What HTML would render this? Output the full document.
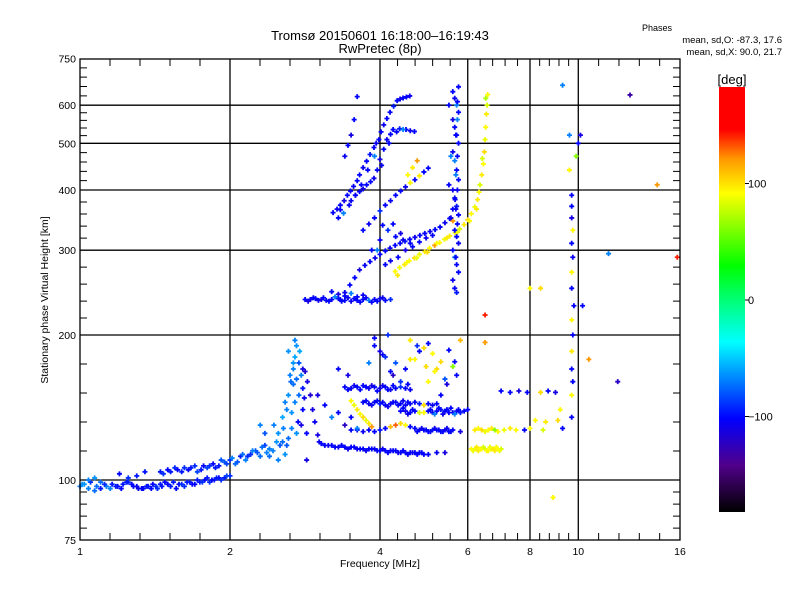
<!DOCTYPE html>
<html><head><meta charset="utf-8">
<style>
html,body{margin:0;padding:0;background:#fff;}
svg{display:block;font-family:"Liberation Sans",sans-serif;}
</style></head>
<body>
<svg id="chart" width="800" height="600" viewBox="0 0 800 600" xmlns="http://www.w3.org/2000/svg">
<defs>
<linearGradient id="cbar" x1="0" y1="1" x2="0" y2="0">
<stop offset="0" stop-color="#000000"/>
<stop offset="0.11" stop-color="#50008a"/>
<stop offset="0.22" stop-color="#0000ff"/>
<stop offset="0.31" stop-color="#0080ff"/>
<stop offset="0.40" stop-color="#00ffff"/>
<stop offset="0.48" stop-color="#00ff90"/>
<stop offset="0.58" stop-color="#00ff00"/>
<stop offset="0.75" stop-color="#ffff00"/>
<stop offset="0.83" stop-color="#ff9900"/>
<stop offset="0.90" stop-color="#ff0000"/>
<stop offset="1" stop-color="#ff0000"/>
</linearGradient>
</defs>
<text x="380" y="40" text-anchor="middle" font-size="13">Tromsø 20150601 16:18:00–16:19:43</text>
<text x="380" y="53" text-anchor="middle" font-size="13">RwPretec (8p)</text>
<text x="657" y="31" text-anchor="middle" font-size="9">Phases</text>
<text x="782" y="43" text-anchor="end" font-size="9.5">mean, sd,O: -87.3, 17.6</text>
<text x="782" y="55" text-anchor="end" font-size="9.5">mean, sd,X:  90.0, 21.7</text>
<g id="grid"></g>
<g id="marks"></g>
<g id="axes"></g>
<text x="380" y="567" text-anchor="middle" font-size="10.5">Frequency [MHz]</text>
<text transform="translate(48,300) rotate(-90)" text-anchor="middle" font-size="10.5">Stationary phase Virtual Height [km]</text>
<rect x="719" y="87" width="26" height="425" fill="url(#cbar)"/>
<text x="732" y="84" text-anchor="middle" font-size="13">[deg]</text>
<g id="cbticks"></g>
</svg>
<script>
const xMajor=[1,2,4,6,8,10,16];
const yMajor=[75,100,200,300,400,500,600,750];
const cbTicks=[100,0,-100];
// traces: frequency (MHz), height (km), phase (deg)
const eLowF=[1.0,1.02,1.05,1.08,1.1,1.13,1.16,1.19,1.22,1.25,1.28,1.31,1.34,1.37,1.4,1.43,1.46,1.5,1.54,1.58,1.62,1.66,1.7,1.74,1.78,1.82,1.86,1.9,1.95,2.0,1.01,1.04,1.07,1.12,1.15,1.18,1.21,1.24,1.27,1.3,1.33,1.36,1.39,1.42,1.45,1.48,1.52,1.56,1.6,1.64,1.68,1.72,1.76,1.8,1.84,1.88,1.92,1.97];
const eLowH=[97,98,99,97,96,97,98,97,98,99,97,96,96,97,98,96,97,98,99,98,97,99,98,99,100,99,100,101,101,102,98,96,95,98,96,97,96,99,98,97,96,97,96,97,98,99,97,96,98,99,98,100,99,101,100,101,100,102];
const eLowP=[-70,-65,-90,-75,-95,-70,-95,-100,-95,-90,-100,-105,-100,-95,-100,-90,-95,-100,-95,-100,-90,-95,-100,-95,-100,-90,-95,-100,-95,-90,-65,-70,-75,-90,-70,-95,-100,-95,-100,-105,-100,-95,-100,-90,-95,-100,-95,-100,-90,-95,-100,-95,-90,-95,-100,-95,-90,-85];
const eUpF=[1.04,1.07,1.1,1.45,1.5,1.55,1.6,1.65,1.7,1.75,1.8,1.85,1.9,1.95,2.0,2.05,2.1,2.15,2.2,2.25,2.3,2.35,2.4,1.2,1.3,1.47,1.52,1.57,1.62,1.67,1.72,1.77,1.82,1.87,1.92,1.97,2.02,2.07,2.12,2.17,2.22,2.27,2.32,2.37,1.25,1.35];
const eUpH=[100,101,99,104,105,106,104,105,107,105,106,108,107,109,110,108,112,110,113,115,112,118,116,103,102,103,104,105,106,106,104,107,107,106,110,108,111,109,113,112,115,114,117,114,101,104];
const eUpP=[-70,-65,-75,-95,-100,-90,-95,-100,-90,-95,-85,-100,-95,-80,-90,-75,-95,-70,-90,-80,-75,-85,-70,-100,-95,-90,-95,-100,-90,-95,-85,-100,-90,-95,-80,-85,-70,-80,-75,-90,-70,-80,-75,-70,-90,-95];
const preF=[2.45,2.5,2.55,2.55,2.6,2.62,2.65,2.68,2.7,2.72,2.75,2.78,2.75,2.7,2.8,2.8,2.66,2.72,2.6,2.5,2.4,2.58,2.85,2.85,2.3,2.35,2.62,2.7,2.76,2.68,2.64,2.68,2.72,2.58,2.66,2.74,2.56,2.62,2.52,2.44,2.48,2.8,2.82,2.78];
const preH=[130,125,120,135,140,150,160,170,180,190,175,165,150,145,140,155,128,125,118,110,112,113,125,110,130,125,185,195,185,158,165,175,162,145,138,132,128,122,118,115,120,170,148,130];
const preP=[-70,-65,-75,-60,-70,-65,-75,-70,-60,-65,-80,-70,-75,-70,-100,-95,-70,-65,-80,-70,-75,-65,-100,-110,-70,-80,-65,-70,-60,-75,-70,-65,-75,-70,-65,-100,-70,-75,-80,-70,-65,-110,-105,-110];
const f1F=[2.83,2.86,2.9,2.93,2.96,3.0,3.02,3.1,3.2,3.3,3.4,3.5,3.6,3.7,3.8,3.9,4.0,4.1,4.2,4.3,4.4,4.5,4.6,4.7,4.8,4.9,5.0,5.2,5.4,3.05,3.15,3.25,3.35,3.45,3.55,3.65,3.75,3.85,3.95,4.05,4.15,4.25,4.35,4.45,4.55,4.65,4.75,4.85];
const f1H=[168,160,150,140,132,124,120,118,118,117,117,117,116,116,116,116,115,115,115,115,114,114,114,114,114,113,113,114,114,119,118,117,118,116,117,116,115,116,115,116,114,115,114,115,113,114,113,114];
const f1P=[-115,-110,-115,-110,-105,-110,-105,-100,-100,-105,-100,-100,-105,-100,-100,-105,-100,-100,-105,-100,-100,-105,-100,-100,-105,-100,-100,-105,-110,-100,-105,-100,-100,-105,-100,-100,-105,-100,-100,-105,-100,-100,-105,-100,-100,-105,-100,-100];
const f2F=[3.5,3.6,3.7,3.8,3.9,4.0,4.1,4.2,4.3,4.4,4.5,4.6,4.7,4.8,4.9,5.0,5.1,5.2,5.3,5.4,5.5,5.6,5.8,4.75,4.85,4.95,5.05,5.15,5.25,5.35,5.45,5.55];
const f2H=[127,127,126,127,126,127,128,129,130,131,130,129,128,127,127,126,127,127,126,127,126,127,126,126,128,127,126,128,127,126,128,126];
const f2P=[-100,-100,-105,-100,-100,-95,-100,110,130,100,90,-100,-100,-105,-100,-100,-95,-100,-100,-105,-100,-100,-110,-100,-105,-100,-100,-105,-100,-100,-105,-100];
const f3F=[4.4,4.5,4.6,4.7,4.8,4.9,5.0,5.1,5.2,5.3,5.4,5.5,5.6,5.7,5.8,5.9,6.0,4.45,4.55,4.65,5.05,5.15,5.25,5.35,5.45,5.55,5.65,5.75];
const f3H=[139,139,138,139,138,138,139,138,139,140,139,138,138,139,138,139,140,141,137,140,140,137,141,137,140,141,137,140];
const f3P=[-100,-105,-100,-100,80,90,-100,-105,-100,-95,-100,-100,-105,-100,-95,-100,-100,-100,-105,-100,-100,-70,-100,-105,-100,-100,-70,-100];
const f4F=[3.4,3.5,3.6,3.7,3.8,3.9,4.0,4.1,4.2,4.3,4.4,4.5,4.6,3.45,3.55,3.65,3.75,3.85,3.95,4.05,4.15,4.25];
const f4H=[156,155,156,157,155,156,155,156,154,155,156,155,154,154,157,154,156,157,153,157,154,157];
const f4P=[-100,-105,-100,-100,-105,-100,-110,-100,-105,-100,-90,-100,-105,-100,-105,-100,-100,-110,-100,-105,-100,-100];
const f5F=[3.7,3.8,3.9,4.0,4.1,4.2,4.3,4.4,4.5,4.6,4.7,4.8,4.9,5.0,5.1,5.2,3.75,3.85,3.95,4.05,4.15,4.25,4.35,4.45,4.55];
const f5H=[145,144,145,144,143,144,145,144,143,144,145,144,143,144,143,144,146,143,146,145,142,145,143,146,145];
const f5P=[-100,-105,-100,-95,-100,-105,-100,-100,-105,-100,-100,-95,100,-100,-105,-100,-100,-105,-100,-100,-105,-100,-100,-105,-100];
const ySpreadF=[3.5,3.55,3.6,3.65,3.7,3.75,3.8,3.85,6.1,6.2,6.3,6.4,6.5,6.6,6.7,6.8,6.9,7.0,6.2,6.3,6.4,6.5,6.6,6.7,6.8,6.9,7.1,7.3,7.5,6.15,6.25,6.35,6.45,6.55,6.65,6.75,6.85,6.95];
const ySpreadH=[146,143,140,137,135,133,131,129,116,116,115,116,116,115,116,115,116,116,127,128,127,126,127,128,127,126,127,128,127,115,117,116,117,115,117,116,117,115];
const ySpreadP=[90,85,95,90,100,85,95,120,90,85,95,90,80,90,85,95,90,80,95,90,100,85,90,95,60,90,85,95,90,85,95,90,80,90,85,95,90,85];
const scatF=[3.9,4.0,4.1,4.3,4.5,4.7,4.9,5.0,5.1,5.3,5.5,5.6,5.7,5.8,4.2,4.4,4.6,4.8,5.2,5.4,3.8,4.05,4.25,4.55,4.75,4.95,5.15,5.45,5.65,7.0,7.3,7.6,7.9,8.4,8.7,9.0,8.2,8.6,9.1,7.8,8.0,8.5,9.3,9.2,3.0,3.1,3.2,3.3,3.4,3.5,3.6,3.3,3.45,3.9,4.15,4.6,5.0,5.3];
const scatH=[190,185,180,175,170,178,188,192,183,176,186,172,165,195,168,160,178,185,170,162,175,182,165,158,190,172,168,158,176,153,152,153,152,152,153,152,133,132,133,127,128,127,128,140,150,143,135,138,130,135,128,170,165,197,200,195,160,150];
const scatP=[-100,-110,-90,-80,-100,90,100,-100,90,100,-100,60,-100,110,-100,-90,95,-100,100,-80,-70,-100,-120,-100,-90,100,90,-110,-100,-100,-100,-110,-100,100,-100,-110,90,95,100,-100,90,80,-100,90,-110,-100,-70,-100,-120,-100,-70,-100,-110,-100,-90,95,90,-100];
const uFlatF=[2.83,2.9,2.97,3.05,3.12,3.2,3.3,3.4,3.5,3.6,3.7,3.8,3.9,4.0,4.1,4.2,3.2,3.3,3.4,3.5,3.6,3.7,2.87,2.94,3.01,3.08,3.16,3.25,3.35,3.45,3.55,3.65,3.75,3.85,3.95,4.05];
const uFlatH=[237,237,238,237,236,237,238,236,235,236,237,236,237,238,236,237,246,243,241,244,240,242,235,239,236,239,235,240,235,239,238,234,239,234,235,239];
const uFlatP=[-100,-105,-100,-110,-100,-100,-95,-100,-105,-100,-100,-70,-100,-105,-100,-90,-100,-110,-100,-70,-100,-105,-110,-100,-105,-100,-100,-70,-100,-105,-100,-100,-105,-100,-100,-105];
const uRiseF=[3.33,3.4,3.48,3.56,3.64,3.73,3.82,3.91,4.0,4.1,4.19,4.29,4.39,4.49,4.59,4.7,4.81,4.92,5.04,5.16,5.28,5.4,5.52,5.6,5.66,4.05,4.15,4.3,4.45,4.6,3.95,4.1,4.2,4.35,4.5,4.65,4.8,4.95,5.1,3.85,4.0,4.25,4.4];
const uRiseH=[237,245,254,263,273,279,284,289,294,299,303,307,310,313,316,319,322,325,328,331,335,342,349,365,382,338,330,320,315,310,300,280,285,290,300,305,312,318,322,300,315,340,325];
const uRiseP=[-100,-105,-100,-100,-110,-100,-100,-105,-100,-100,-105,-100,-100,-95,-100,-105,-100,-100,-105,-100,-100,-105,-100,-100,-105,-100,-90,-100,-105,-100,-70,-100,-105,-100,-110,-100,-100,-105,-100,-100,-105,-100,-110];
const uYelF=[4.29,4.38,4.48,4.58,4.69,4.8,4.92,5.03,5.15,5.27,5.39,5.52,5.66,5.78,5.9,6.0,6.1,6.2,6.28,6.32,6.35,6.4,6.45,6.48,6.5,6.52,6.54,6.56,6.58,6.52,4.55,4.65,4.75,4.34,4.53,4.74,4.98,5.2,5.45,5.72,6.05,6.25,6.42];
const uYelH=[271,276,280,285,289,294,298,303,307,311,316,321,326,332,339,347,357,369,382,396,410,430,453,480,509,540,575,600,631,620,430,445,460,266,283,289,297,310,318,327,345,365,465];
const uYelP=[90,85,95,90,100,85,95,90,120,90,85,95,90,80,95,100,90,85,95,90,80,95,90,100,85,90,95,80,90,70,90,95,120,95,90,85,100,90,95,85,90,95,80];
const colF=[5.6,5.65,5.7,5.75,5.6,5.65,5.7,5.75,5.6,5.65,5.7,5.75,5.6,5.65,5.7,5.75,5.6,5.65,5.7,5.75,5.6,5.65,5.7,5.75,5.6,5.65,5.7,5.75,5.5,5.55,5.5,5.55,5.72,5.72,5.72,5.72,5.72,5.68,5.68,5.68,5.68];
const colH=[640,620,600,580,560,540,520,500,480,460,440,420,400,385,370,355,345,330,320,310,300,290,280,270,260,250,245,655,600,470,410,350,610,560,470,400,340,520,430,365,290];
const colP=[-100,-105,-70,-100,-110,-100,-95,-100,-105,-70,-100,-100,-105,-100,-95,-100,120,-100,-100,-105,-100,-70,-100,-100,-105,-100,-95,-100,-100,-70,-100,-105,-100,-70,-100,-105,-100,-100,-70,-105,-100];
const uLF=[3.22,3.28,3.33,3.39,3.44,3.49,3.54,3.6,3.64,3.7,3.76,3.82,3.89,3.93,3.98,4.02,4.07,4.13,4.19,4.26,4.33,4.39,4.45,4.52,4.59,3.6,3.55,3.5,3.45,3.4,3.3,3.38,3.47,3.57,3.67,3.78,3.9];
const uLH=[359,365,372,380,390,398,407,418,430,445,459,474,490,500,509,528,546,563,580,597,613,618,621,624,627,625,560,520,495,470,350,358,372,390,410,440,470];
const uLP=[-100,-105,-100,-110,-100,-100,-105,-100,-100,-105,-100,-95,-100,-105,-100,-100,-105,-100,-100,-95,-100,-105,-100,-100,-105,-100,-100,-110,-100,-105,-100,-70,-100,-105,-100,-100,-70];
const uCF=[3.33,3.5,3.64,3.76,3.89,3.95,4.0,4.07,4.13,4.2,4.25,4.38,4.51,4.6,4.69,3.7,3.8,3.9,4.0,4.1,4.2,4.3,4.4,4.5,4.6,4.7,4.8,4.9,5.0,3.57,3.7,3.83,4.03,4.17,4.32,4.45];
const uCH=[364,380,397,410,423,440,463,486,509,522,534,536,534,531,529,330,340,350,362,372,380,390,398,406,414,420,428,436,444,390,402,416,450,500,528,534];
const uCP=[-100,-105,-100,-100,-105,-100,-110,-100,-105,-100,-100,-95,-100,-105,-100,-100,-105,-100,-90,-100,-105,-100,-100,-105,90,-100,95,-100,-100,-100,-110,-100,-105,-100,-100,-70];
const rightF=[9.7,9.7,9.7,9.75,9.7,9.75,9.7,9.7,9.8,9.7,9.75,9.7,9.7,9.75,9.7,9.7,10.0,9.9,9.6,10.1,11.5,12.7,14.4,15.8,9.3,10.2,9.6,8.0,8.4,12.0,10.5,6.5,6.5,8.9];
const rightH=[390,370,350,330,310,290,270,250,230,215,200,185,170,160,150,135,500,470,520,520,295,630,410,290,660,230,440,250,250,160,178,220,193,92];
const rightP=[-100,-100,-110,90,-100,-105,90,-100,-100,90,-100,95,-100,-100,90,-100,-100,60,-70,-110,-70,-130,120,140,-70,-100,90,90,100,-120,120,140,120,90];
const traces=[[eLowF,eLowH,eLowP],[eUpF,eUpH,eUpP],[preF,preH,preP],[f1F,f1H,f1P],[f2F,f2H,f2P],[f3F,f3H,f3P],[f4F,f4H,f4P],[f5F,f5H,f5P],[ySpreadF,ySpreadH,ySpreadP],[scatF,scatH,scatP],[uFlatF,uFlatH,uFlatP],[uRiseF,uRiseH,uRiseP],[uYelF,uYelH,uYelP],[colF,colH,colP],[uLF,uLH,uLP],[uCF,uCH,uCP],[rightF,rightH,rightP]];

const NS="http://www.w3.org/2000/svg";
const X0=80,X1=680,Y0=59,Y1=540;
function xs(f){return X0+150*Math.log2(f);}
function ys(h){return 480-481.7*Math.log10(h/100);}
function cy(p){return 300-(p/100)*116.5;}
const cstops=[[-180,[0,0,0]],[-140,[80,0,138]],[-100,[0,0,255]],[-70,[0,128,255]],[-37,[0,255,255]],[-10,[0,255,144]],[28,[0,255,0]],[89,[255,255,0]],[120,[255,153,0]],[145,[255,0,0]],[180,[255,0,0]]];
function pcol(p){
  for(let i=1;i<cstops.length;i++){
    if(p<=cstops[i][0]){const a=cstops[i-1],b=cstops[i];const t=(p-a[0])/(b[0]-a[0]);
      const c=a[1].map((v,k)=>Math.round(v+(b[1][k]-v)*t));return `rgb(${c[0]},${c[1]},${c[2]})`;}
  }
  return 'rgb(255,0,0)';
}
function mk(tag,attrs,parent){const e=document.createElementNS(NS,tag);for(const k in attrs)e.setAttribute(k,attrs[k]);parent.appendChild(e);return e;}
const grid=document.getElementById('grid'),axes=document.getElementById('axes'),marks=document.getElementById('marks');
xMajor.forEach(f=>{
  if(f>1&&f<16){const l=mk('line',{x1:xs(f),x2:xs(f),y1:Y0,y2:Y1,stroke:'#000','stroke-width':1.3},grid);
    
    }
  const t=mk('text',{x:xs(f),y:555,'text-anchor':'middle','font-size':10.5},axes);t.textContent=f;
  
  
});
yMajor.forEach(h=>{
  if(h>75&&h<750){const l=mk('line',{x1:X0,x2:X1,y1:ys(h),y2:ys(h),stroke:'#000','stroke-width':1.3},grid);
    
    }
  const t=mk('text',{x:76,y:ys(h)+4,'text-anchor':'end','font-size':10.5},axes);t.textContent=h;
  
  
});
let tk='';
for(let i=0;i<xMajor.length-1;i++){const a=xs(xMajor[i]),b=xs(xMajor[i+1]);for(let k=1;k<5;k++){const x=a+(b-a)*k/5;tk+=`M${x},${Y1}v-7M${x},${Y0}v7`;}}
for(let i=0;i<yMajor.length-1;i++){const a=ys(yMajor[i]),b=ys(yMajor[i+1]);for(let k=1;k<5;k++){const y=a+(b-a)*k/5;tk+=`M${X0},${y}h7M${X1},${y}h-7`;}}
const tp=mk('path',{d:tk,stroke:'#000','stroke-width':1,fill:'none'},axes);


const frame=mk('rect',{x:X0,y:Y0,width:X1-X0,height:Y1-Y0,fill:'none',stroke:'#000','stroke-width':1.3},axes);


traces.forEach(tr=>{
  const F=tr[0],H=tr[1],P=tr[2];
  for(let i=0;i<F.length;i++){
    const x=xs(F[i]),y=ys(H[i]);
    if(x<X0||x>X1||y<Y0||y>Y1)continue;
    const m=mk('path',{d:`M${x-2.5},${y}h5M${x},${y-2.5}v5`,stroke:pcol(P[i]),'stroke-width':1.8},marks);
    
    
  }
});
const cb=document.getElementById('cbticks');
cbTicks.forEach(v=>{
  const l=mk('line',{x1:745,x2:749,y1:cy(v),y2:cy(v),stroke:'#000'},cb);
  
  
  const t=mk('text',{x:748,y:cy(v)+4,'font-size':11},cb);t.textContent=(v<0?'−':'')+Math.abs(v);
  
  
});
</script>
</body></html>
